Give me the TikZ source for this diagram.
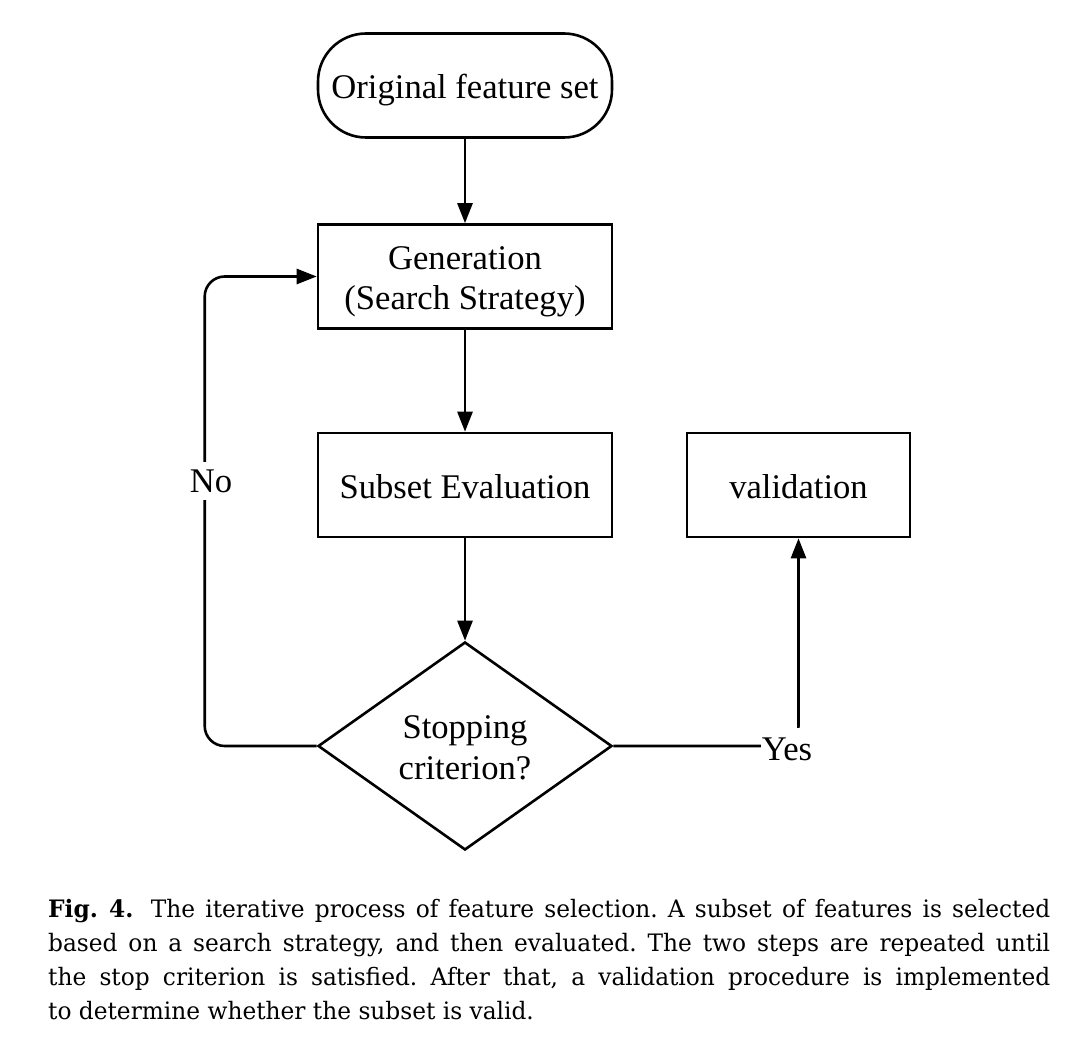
\documentclass[tikz,border=0pt]{standalone}
\usepackage{fontspec}
\setmainfont{Liberation Serif}
\newfontfamily\capfont[FakeStretch=0.97]{DejaVu Serif}
\usetikzlibrary{arrows.meta,shapes.geometric}
\newcommand\tst{\rule[-7pt]{0pt}{40pt}}
\newcommand\capline[1]{\makebox[1002pt][s]{#1}}
\begin{document}
\begin{tikzpicture}[x=1pt,y=-1pt,
  every node/.style={font=\fontsize{34.6}{40}\selectfont},
  base/.style={draw, line width=2.6pt, inner sep=0pt, align=center},
  box/.style={base, minimum width=294pt, minimum height=104pt},
  term/.style={box, rounded corners=48pt},
  decision/.style={base, diamond, aspect=1.413, minimum width=294pt, minimum height=208pt},
  arr/.style={line width=2.6pt, -{Triangle[length=20pt,width=15pt]}},
  lbl/.style={fill=white, inner xsep=1pt, inner ysep=10pt}]
\useasboundingbox (0,0) rectangle (1073,1056);

\node[term] (orig) at (465,85.5) {\tst Original feature set};
\node[box] (gen) at (465,276.5) {\tst Generation\\\tst(Search Strategy)};
\node[box] (eval) at (465,485) {\tst Subset Evaluation};
\node[box, minimum width=223pt] (val) at (798.5,485) {\tst validation};
\node[decision] (dec) at (465,746) {\tst Stopping\\\tst criterion?};

\draw[arr] (orig) -- (gen);
\draw[arr] (gen) -- (eval);
\draw[arr] (eval) -- (dec);
\draw[arr, rounded corners=20pt] (dec.west) -- ++(-112,0) |- (gen.west);
\draw[arr, rounded corners=20pt] (dec.east) -| (val.south);

\node[lbl, inner ysep=8pt] (no) at (211,481) {No};
\node[lbl] (yes) at (787,749) {Yes};

\node[anchor=north west, inner sep=0pt, align=left,
  font=\capfont\fontsize{24}{34}\selectfont\frenchspacing] (cap) at (48,899)
  {\capline{\textbf{Fig. 4.}\hspace{0.3em} The iterative process of feature selection. A subset of features is selected}\\
   \capline{based on a search strategy, and then evaluated. The two steps are repeated until}\\
   \capline{the stop criterion is satisfied. After that, a validation procedure is implemented}\\
   to determine whether the subset is valid.};
\end{tikzpicture}
\end{document}
